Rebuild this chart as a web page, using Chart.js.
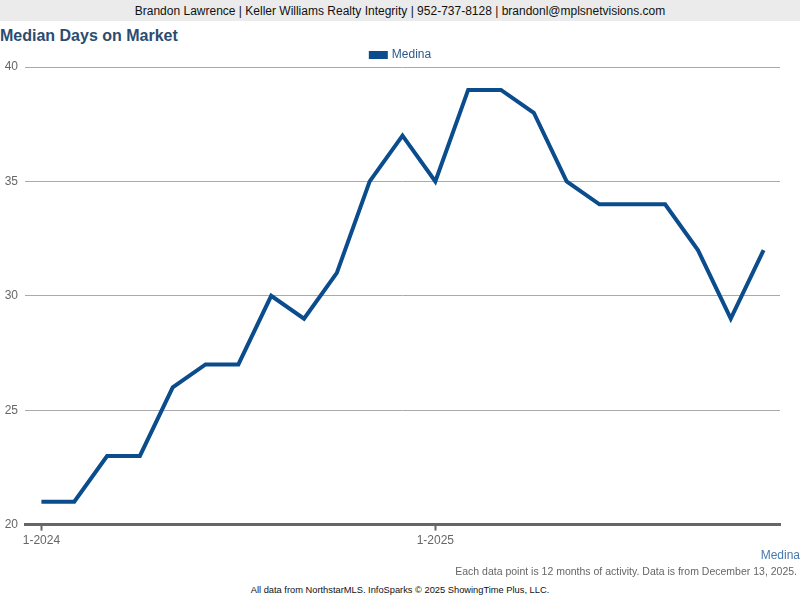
<!DOCTYPE html>
<html>
<head>
<meta charset="utf-8">
<script src="https://cdn.jsdelivr.net/npm/chart.js@4/dist/chart.umd.min.js"></script>
<style>
  body { margin:0; width:800px; height:600px; background:#fff; font-family:"Liberation Sans", Arial, sans-serif; position:relative; overflow:hidden; }
  #hdr { position:absolute; left:0; top:0; width:800px; height:21px; background:#ebebeb; text-align:center; font-size:12px; line-height:22px; color:#111; }
  #ttl { position:absolute; left:0; top:27px; font-size:16px; font-weight:bold; color:#2b4c71; }
  #wrap { position:absolute; left:0; top:42px; width:800px; height:509px; }
  #area { position:absolute; right:0; top:548px; font-size:12px; color:#4a78ad; }
  #note { position:absolute; right:3px; top:565px; font-size:10.5px; color:#666; }
  #src { position:absolute; left:0; width:800px; top:585px; text-align:center; font-size:9.3px; color:#111; }
</style>
</head>
<body>
<div id="hdr">Brandon Lawrence | Keller Williams Realty Integrity | 952-737-8128 | brandonl@mplsnetvisions.com</div>
<div id="ttl">Median Days on Market</div>
<div id="wrap"><canvas id="myChart" width="800" height="509"></canvas></div>
<div id="area">Medina</div>
<div id="note">Each data point is 12 months of activity. Data is from December 13, 2025.</div>
<div id="src">All data from NorthstarMLS. InfoSparks © 2025 ShowingTime Plus, LLC.</div>
<script>
// months 1-2024 .. 11-2025
var months = ['1-2024','2-2024','3-2024','4-2024','5-2024','6-2024','7-2024','8-2024','9-2024','10-2024','11-2024','12-2024',
              '1-2025','2-2025','3-2025','4-2025','5-2025','6-2025','7-2025','8-2025','9-2025','10-2025','11-2025'];
var medina = [21,21,23,23,26,27,27,30,29,31,35,37,35,39,39,38,35,34,34,34,32,29,32];
var shownTicks = ['1-2024','1-2025'];

// legend sits centred on the whole canvas and a bit lower than chart.js puts it
var legendShift = {
  id: 'legendShift',
  afterLayout: function(chart) {
    chart.legend.left += 11;
    chart.legend.right += 11;
    chart.legend.top += 4;
    chart.legend.bottom += 4;
  }
};

var ctx = document.getElementById('myChart').getContext('2d');
var myChart = new Chart(ctx, {
  type: 'line',
  data: {
    labels: months,
    datasets: [{
      label: 'Medina',
      data: medina,
      borderColor: '#0a4c8c',
      backgroundColor: '#0a4c8c',
      borderWidth: 4,
      pointRadius: 0,
      tension: 0,
      fill: false,
      borderJoinStyle: 'miter'
    }]
  },
  plugins: [legendShift],
  options: {
    responsive: false,
    animation: false,
    layout: { padding: { left: 0, right: 20, top: 0, bottom: 0 } },
    plugins: {
      legend: {
        display: true,
        position: 'top',
        labels: { boxWidth: 15, boxHeight: 4, color: '#2b5a8a', font: { size: 12, family: '"Liberation Sans", Arial' }, padding: 3 }
      },
      tooltip: { enabled: false }
    },
    scales: {
      x: {
        offset: true,
        border: { display: true, color: '#666', width: 3 },
        grid: {
          drawOnChartArea: false,
          tickLength: 6,
          tickColor: function(c) { return shownTicks.indexOf(months[c.index]) >= 0 ? '#666' : 'rgba(0,0,0,0)'; },
          tickWidth: 2
        },
        ticks: {
          autoSkip: false,
          maxRotation: 0,
          color: '#666',
          font: { size: 12, family: '"Liberation Sans", Arial' },
          padding: 3,
          callback: function(v, i) { return shownTicks.indexOf(months[i]) >= 0 ? months[i] : ''; }
        }
      },
      y: {
        min: 20,
        max: 40,
        border: { display: false },
        grid: { color: '#aaa', drawTicks: false, lineWidth: 1 },
        ticks: {
          stepSize: 5,
          color: '#666',
          padding: 7,
          font: { size: 12, family: '"Liberation Sans", Arial' }
        },
        afterFit: function(s) { s.width = 25; }
      }
    }
  }
});
</script>
</body>
</html>
